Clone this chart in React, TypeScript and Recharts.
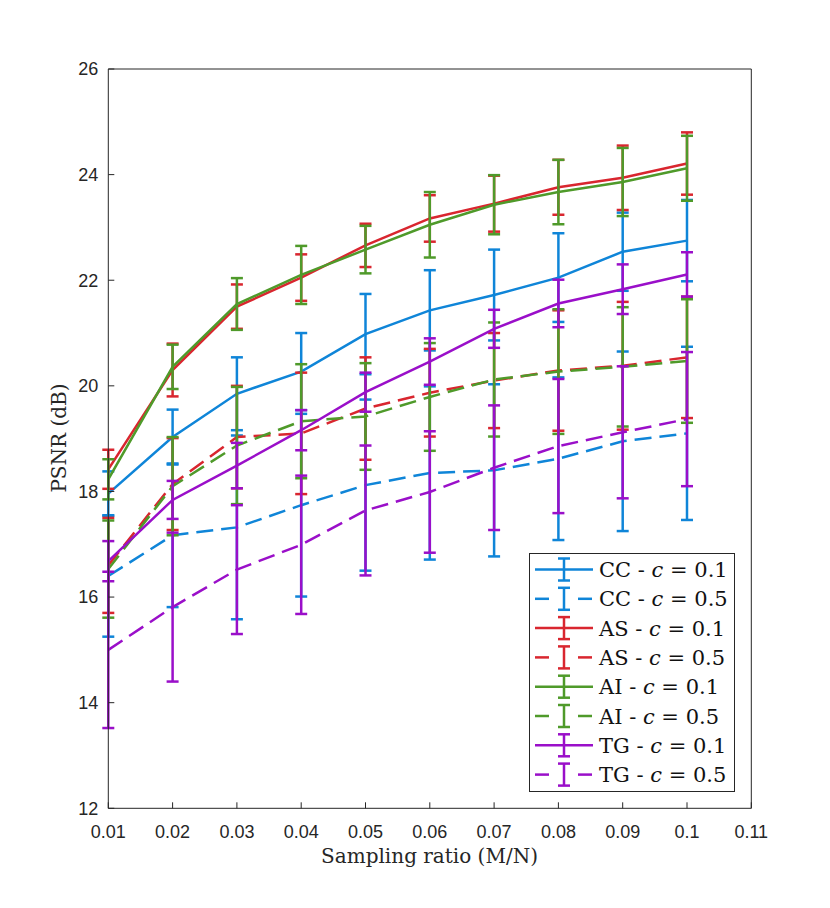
import React from 'react';
import { LineChart, Line, XAxis, YAxis, ErrorBar, Legend } from 'recharts';

// ---------- data ----------
const xValues = [0.01, 0.02, 0.03, 0.04, 0.05, 0.06, 0.07, 0.08, 0.09, 0.1];
const xTicks = [0.01, 0.02, 0.03, 0.04, 0.05, 0.06, 0.07, 0.08, 0.09, 0.1, 0.11];
const yTicks = [12, 14, 16, 18, 20, 22, 24, 26];

const ccMean01 = [17.96, 19.03, 19.85, 20.27, 20.98, 21.43, 21.72, 22.05, 22.54, 22.75];
const ccErr01 = [0.42, 0.52, 0.69, 0.73, 0.76, 0.76, 0.86, 0.84, 0.74, 0.77];
const ccMean05 = [16.4, 17.17, 17.32, 17.74, 18.12, 18.35, 18.4, 18.62, 18.95, 19.1];
const ccErr05 = [1.15, 1.36, 1.74, 1.73, 1.62, 1.64, 1.63, 1.54, 1.7, 1.64];

const asMean01 = [18.42, 20.3, 21.5, 22.05, 22.66, 23.17, 23.45, 23.76, 23.94, 24.21];
const asErr01 = [0.37, 0.5, 0.42, 0.44, 0.41, 0.44, 0.53, 0.52, 0.61, 0.59];
const asMean05 = [16.6, 18.14, 19.03, 19.1, 19.57, 19.87, 20.1, 20.29, 20.38, 20.54];
const asErr05 = [0.9, 0.87, 0.97, 1.15, 0.97, 0.83, 0.9, 1.14, 1.21, 1.15];

const aiMean01 = [18.23, 20.36, 21.55, 22.1, 22.58, 23.05, 23.43, 23.67, 23.86, 24.12];
const aiErr01 = [0.38, 0.42, 0.49, 0.55, 0.45, 0.62, 0.56, 0.61, 0.645, 0.615];
const aiMean05 = [16.53, 18.1, 18.87, 19.33, 19.42, 19.79, 20.12, 20.27, 20.36, 20.47];
const aiErr05 = [0.92, 0.93, 1.11, 1.08, 1.01, 1.02, 1.08, 1.18, 1.13, 1.17];

const tgMean01 = [16.68, 17.84, 18.49, 19.16, 19.88, 20.46, 21.08, 21.56, 21.83, 22.11];
const tgErr01 = [0.38, 0.36, 0.43, 0.38, 0.37, 0.44, 0.36, 0.45, 0.47, 0.42];
const tgMean05 = [15.0, 15.81, 16.52, 16.99, 17.64, 17.99, 18.45, 18.86, 19.12, 19.37];
const tgErr05 = [1.48, 1.41, 1.22, 1.31, 1.23, 1.15, 1.18, 1.27, 1.25, 1.27];

const seriesKeys = ['cc1', 'cc5', 'as1', 'as5', 'ai1', 'ai5', 'tg1', 'tg5'];
const methodNames = ['CC', 'CC', 'AS', 'AS', 'AI', 'AI', 'TG', 'TG'];
const cValues = ['0.1', '0.5', '0.1', '0.5', '0.1', '0.5', '0.1', '0.5'];
const seriesMeans = [ccMean01, ccMean05, asMean01, asMean05, aiMean01, aiMean05, tgMean01, tgMean05];
const seriesErrs = [ccErr01, ccErr05, asErr01, asErr05, aiErr01, aiErr05, tgErr01, tgErr05];

const xLabel = 'Sampling ratio (M/N)';
const yLabel = 'PSNR (dB)';

// ---------- styles ----------
const BLUE = '#0F85D8';
const RED = '#D9262F';
const GREEN = '#4F9A2A';
const PURPLE = '#9A0FC9';
const seriesColors = [BLUE, BLUE, RED, RED, GREEN, GREEN, PURPLE, PURPLE];
const seriesDashed = [false, true, false, true, false, true, false, true];
const AXIS = '#262626';
const DASH = '17 8';
const LW = 2.5;

const rows = xValues.map((x, i) => {
  const r: Record<string, number> = { x };
  seriesKeys.forEach((k, s) => {
    r[k] = seriesMeans[s][i];
    r[k + 'Err'] = seriesErrs[s][i];
  });
  return r;
});

const renderXLabel = () => (
  <text x={421.5} y={854.7} textAnchor="middle" fontFamily="DejaVu Serif" fontSize={20} fill={AXIS}>
    {xLabel}
  </text>
);

const renderYLabel = () => (
  <text transform="translate(58,430) rotate(-90)" textAnchor="middle" fontFamily="DejaVu Serif" fontSize={20} fill={AXIS}>
    {yLabel}
  </text>
);

const renderLegend = () => (
  <svg width={206} height={239} style={{ display: 'block' }}>
    <rect x={0.5} y={0.5} width={205} height={238} fill="#fff" stroke={AXIS} strokeWidth={1} />
    {seriesKeys.map((k, i) => {
      const cy = 16.5 + i * 29.3;
      const col = seriesColors[i];
      return (
        <g key={k} stroke={col} strokeWidth={LW}>
          {seriesDashed[i] ? (
            <>
              <line x1={6} x2={20} y1={cy} y2={cy} />
              <line x1={49} x2={63} y1={cy} y2={cy} />
            </>
          ) : (
            <line x1={6} x2={64} y1={cy} y2={cy} />
          )}
          <line x1={35} x2={35} y1={cy - 11} y2={cy + 11} />
          <line x1={29} x2={41} y1={cy - 11} y2={cy - 11} />
          <line x1={29} x2={41} y1={cy + 11} y2={cy + 11} />
          <text x={70} y={cy + 7.5} stroke="none" fill="#111" fontFamily="DejaVu Serif" fontSize={21}>
            {`${methodNames[i]} - `}
            <tspan fontStyle="italic">c</tspan>
            {` = ${cValues[i]}`}
          </text>
        </g>
      );
    })}
  </svg>
);

const tickStyle = { fontFamily: 'Liberation Sans', fontSize: 18, fill: AXIS };

export default function App() {
  return (
    <LineChart
      width={814}
      height={880}
      data={rows}
      margin={{ top: 51, right: 60.7, bottom: 19.7, left: 40.3 }}
    >
      <XAxis
        dataKey="x"
        type="number"
        domain={[0.01, 0.11]}
        ticks={xTicks}
        tickFormatter={(v: number) => String(v)}
        allowDataOverflow
        height={60}
        tickSize={-6}
        tickMargin={23}
        tick={tickStyle}
        axisLine={{ stroke: AXIS, strokeWidth: 1 }}
        tickLine={{ stroke: AXIS, strokeWidth: 1 }}
        label={renderXLabel}
      />
      <XAxis
        xAxisId="top"
        orientation="top"
        dataKey="x"
        type="number"
        domain={[0.01, 0.11]}
        ticks={xTicks}
        allowDataOverflow
        height={10}
        tickSize={-6}
        tick={false}
        axisLine={{ stroke: AXIS, strokeWidth: 1 }}
        tickLine={{ stroke: AXIS, strokeWidth: 1 }}
      />
      <YAxis
        type="number"
        domain={[12, 26]}
        ticks={yTicks}
        allowDataOverflow
        width={60}
        tickSize={-6}
        tickMargin={16}
        tick={tickStyle}
        axisLine={{ stroke: AXIS, strokeWidth: 1 }}
        tickLine={{ stroke: AXIS, strokeWidth: 1 }}
        label={renderYLabel}
      />
      <YAxis
        yAxisId="right"
        orientation="right"
        type="number"
        domain={[12, 26]}
        ticks={yTicks}
        allowDataOverflow
        width={10}
        tickSize={-6}
        tick={false}
        axisLine={{ stroke: AXIS, strokeWidth: 1 }}
        tickLine={{ stroke: AXIS, strokeWidth: 1 }}
      />
      {seriesKeys.map((k, i) => (
        <Line
          key={k}
          type="linear"
          dataKey={k}
          stroke={seriesColors[i]}
          strokeWidth={LW}
          strokeDasharray={seriesDashed[i] ? DASH : undefined}
          dot={false}
          activeDot={false}
          isAnimationActive={false}
        >
          <ErrorBar
            dataKey={k + 'Err'}
            direction="y"
            width={6}
            stroke={seriesColors[i]}
            strokeWidth={LW}
            isAnimationActive={false}
          />
        </Line>
      ))}
      <Legend
        content={renderLegend}
        layout="vertical"
        align="center"
        verticalAlign="middle"
        wrapperStyle={{ left: 521, top: 545, width: 206, height: 239 }}
      />
    </LineChart>
  );
}
